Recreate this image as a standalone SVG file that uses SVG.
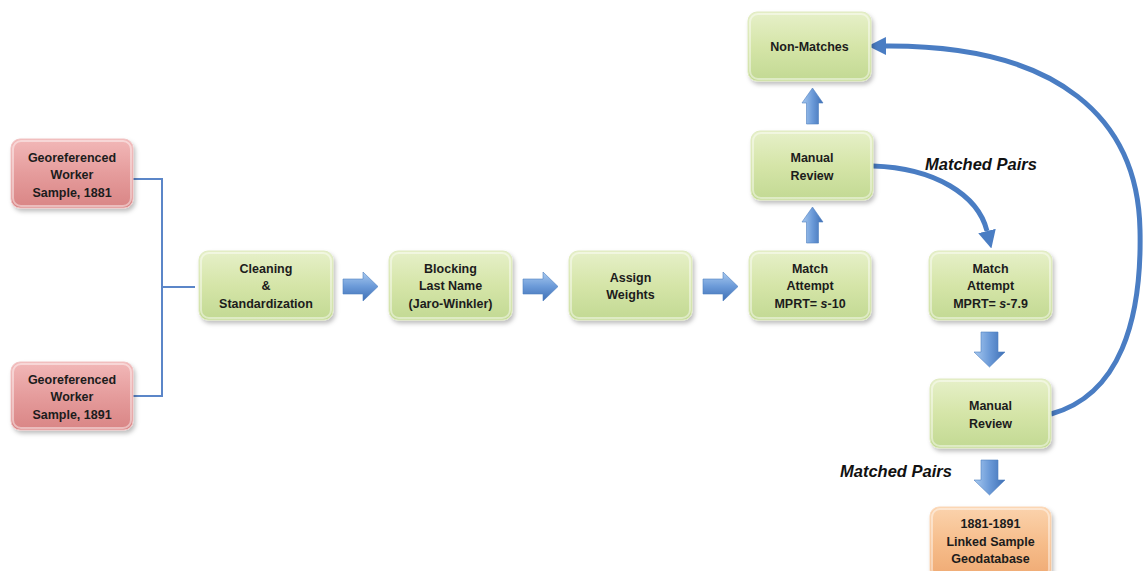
<svg xmlns="http://www.w3.org/2000/svg" width="1143" height="571" viewBox="0 0 1143 571">
  <defs>
    <style>
      .lbl { font-family: "Liberation Sans", Arial, sans-serif; font-weight: bold; font-size: 12.5px; fill: #1c1c1c; text-anchor: middle; }
      .tag { font-family: "Liberation Sans", Arial, sans-serif; font-weight: bold; font-style: italic; font-size: 16.5px; fill: #111; }
      .green { fill: url(#gGreen); stroke: #dfeac0; stroke-width: 1; filter: url(#shadow); }
      .red { fill: url(#gRed); stroke: #f0c4c4; stroke-width: 1; filter: url(#shadow); }
      .orange { fill: url(#gOrange); stroke: #fbd9bb; stroke-width: 1; filter: url(#shadow); }
      .bevel { fill: none; stroke: #ffffff; stroke-opacity: 0.45; stroke-width: 2; }
      .link { fill: none; stroke: #5b86c8; stroke-width: 2; }
      .flow { fill: none; stroke: #4a7dc3; stroke-width: 5; }
      .block { fill: url(#gArrowH); stroke: #4f7fc0; stroke-width: 0.6; }
      .blockv { fill: url(#gArrowV); stroke: #4f7fc0; stroke-width: 0.6; }
    </style>
    <linearGradient id="gGreen" x1="0" y1="0" x2="0" y2="1">
      <stop offset="0" stop-color="#e6f0c9"/>
      <stop offset="0.5" stop-color="#d5e5a8"/>
      <stop offset="1" stop-color="#c2d993"/>
    </linearGradient>
    <linearGradient id="gRed" x1="0" y1="0" x2="0" y2="1">
      <stop offset="0" stop-color="#f2b8b8"/>
      <stop offset="0.5" stop-color="#e59c9c"/>
      <stop offset="1" stop-color="#d98585"/>
    </linearGradient>
    <linearGradient id="gOrange" x1="0" y1="0" x2="0" y2="1">
      <stop offset="0" stop-color="#fbd3ad"/>
      <stop offset="0.5" stop-color="#f6bd8b"/>
      <stop offset="1" stop-color="#efa972"/>
    </linearGradient>
    <linearGradient id="gArrowH" x1="0" y1="0" x2="0" y2="1">
      <stop offset="0" stop-color="#a9caf0"/>
      <stop offset="0.5" stop-color="#6b9ad8"/>
      <stop offset="1" stop-color="#3e6fb5"/>
    </linearGradient>
    <linearGradient id="gArrowV" x1="0" y1="0" x2="1" y2="0">
      <stop offset="0" stop-color="#a9caf0"/>
      <stop offset="0.5" stop-color="#6b9ad8"/>
      <stop offset="1" stop-color="#3e6fb5"/>
    </linearGradient>
    <filter id="shadow" x="-10%" y="-10%" width="125%" height="130%">
      <feDropShadow dx="2" dy="3" stdDeviation="2" flood-color="#000" flood-opacity="0.25"/>
    </filter>
    <marker id="head" viewBox="0 0 10 10" refX="0" refY="5" markerUnits="userSpaceOnUse" markerWidth="18" markerHeight="20" orient="auto">
      <path d="M0,0 L10,5 L0,10 Z" fill="#4a7dc3"/>
    </marker>
    <!-- block arrow shapes drawn at the origin -->
    <path id="arrR" d="M0,7 L20,7 L20,0 L35,14.5 L20,29 L20,22 L0,22 Z"/>
    <path id="arrU" d="M0,15 L10.5,0 L21,15 L16.5,15 L16.5,36 L4.5,36 L4.5,15 Z"/>
    <path id="arrD" d="M7,0 L24,0 L24,20 L31,20 L15.5,35 L0,20 L7,20 Z"/>
  </defs>

  <!-- connectors -->
  <g id="connectors">
    <path class="link" d="M133,179 H162 V396 H128 M162,287 H195"/>
    <use href="#arrR" class="block" x="343" y="272"/>
    <use href="#arrR" class="block" x="523" y="272"/>
    <use href="#arrR" class="block" x="703" y="272"/>
    <use href="#arrU" class="blockv" x="802" y="207"/>
    <use href="#arrU" class="blockv" x="802" y="88"/>
    <use href="#arrD" class="blockv" x="974" y="332"/>
    <use href="#arrD" class="blockv" x="974" y="460"/>
    <path class="flow" d="M873,166 C935,168 978,195 987,231" marker-end="url(#head)"/>
    <path class="flow" d="M1051,414 C1120,395 1142,320 1140,230 C1138,120 1060,45 886,46" marker-end="url(#head)"/>
  </g>

  <g id="label-matched-1"><text class="tag" x="925" y="170">Matched Pairs</text></g>
  <g id="label-matched-2"><text class="tag" x="840" y="477">Matched Pairs</text></g>

  <g id="node-geo-1881">
    <rect class="red" x="11" y="139" width="122" height="69" rx="9"/>
    <rect class="bevel" x="13" y="141" width="118" height="65" rx="8"/>
    <text class="lbl" x="72" y="161.5">Georeferenced</text>
    <text class="lbl" x="72" y="179">Worker</text>
    <text class="lbl" x="72" y="196.5">Sample, 1881</text>
  </g>

  <g id="node-geo-1891">
    <rect class="red" x="11" y="362" width="122" height="68" rx="9"/>
    <rect class="bevel" x="13" y="364" width="118" height="64" rx="8"/>
    <text class="lbl" x="72" y="383.5">Georeferenced</text>
    <text class="lbl" x="72" y="401">Worker</text>
    <text class="lbl" x="72" y="418.5">Sample, 1891</text>
  </g>

  <g id="node-cleaning">
    <rect class="green" x="199" y="251" width="134" height="69" rx="9"/>
    <rect class="bevel" x="201" y="253" width="130" height="65" rx="8"/>
    <text class="lbl" x="266" y="272.5">Cleaning</text>
    <text class="lbl" x="266" y="290">&amp;</text>
    <text class="lbl" x="266" y="307.5">Standardization</text>
  </g>

  <g id="node-blocking">
    <rect class="green" x="389" y="251" width="123" height="69" rx="9"/>
    <rect class="bevel" x="391" y="253" width="119" height="65" rx="8"/>
    <text class="lbl" x="450.5" y="272.5">Blocking</text>
    <text class="lbl" x="450.5" y="290">Last Name</text>
    <text class="lbl" x="450.5" y="307.5">(Jaro-Winkler)</text>
  </g>

  <g id="node-weights">
    <rect class="green" x="569" y="251" width="123" height="69" rx="9"/>
    <rect class="bevel" x="571" y="253" width="119" height="65" rx="8"/>
    <text class="lbl" x="630.5" y="281.5">Assign</text>
    <text class="lbl" x="630.5" y="299">Weights</text>
  </g>

  <g id="node-match-1">
    <rect class="green" x="749" y="251" width="122" height="69" rx="9"/>
    <rect class="bevel" x="751" y="253" width="118" height="65" rx="8"/>
    <text class="lbl" x="810" y="272.5">Match</text>
    <text class="lbl" x="810" y="290">Attempt</text>
    <text class="lbl" x="810" y="307.5">MPRT= <tspan font-style="italic">s</tspan>-10</text>
  </g>

  <g id="node-review-1">
    <rect class="green" x="751" y="131" width="122" height="69" rx="9"/>
    <rect class="bevel" x="753" y="133" width="118" height="65" rx="8"/>
    <text class="lbl" x="812" y="162">Manual</text>
    <text class="lbl" x="812" y="179.5">Review</text>
  </g>

  <g id="node-nonmatches">
    <rect class="green" x="748" y="12" width="123" height="69" rx="9"/>
    <rect class="bevel" x="750" y="14" width="119" height="65" rx="8"/>
    <text class="lbl" x="809.5" y="51">Non-Matches</text>
  </g>

  <g id="node-match-2">
    <rect class="green" x="929" y="251" width="123" height="69" rx="9"/>
    <rect class="bevel" x="931" y="253" width="119" height="65" rx="8"/>
    <text class="lbl" x="990.5" y="272.5">Match</text>
    <text class="lbl" x="990.5" y="290">Attempt</text>
    <text class="lbl" x="990.5" y="307.5">MPRT= <tspan font-style="italic">s</tspan>-7.9</text>
  </g>

  <g id="node-review-2">
    <rect class="green" x="930" y="379" width="121" height="69" rx="9"/>
    <rect class="bevel" x="932" y="381" width="117" height="65" rx="8"/>
    <text class="lbl" x="990.5" y="410">Manual</text>
    <text class="lbl" x="990.5" y="427.5">Review</text>
  </g>

  <g id="node-linked">
    <rect class="orange" x="930" y="507" width="121" height="72" rx="9"/>
    <rect class="bevel" x="932" y="509" width="117" height="68" rx="8"/>
    <text class="lbl" x="990.5" y="528">1881-1891</text>
    <text class="lbl" x="990.5" y="545.5">Linked Sample</text>
    <text class="lbl" x="990.5" y="563">Geodatabase</text>
  </g>
</svg>
